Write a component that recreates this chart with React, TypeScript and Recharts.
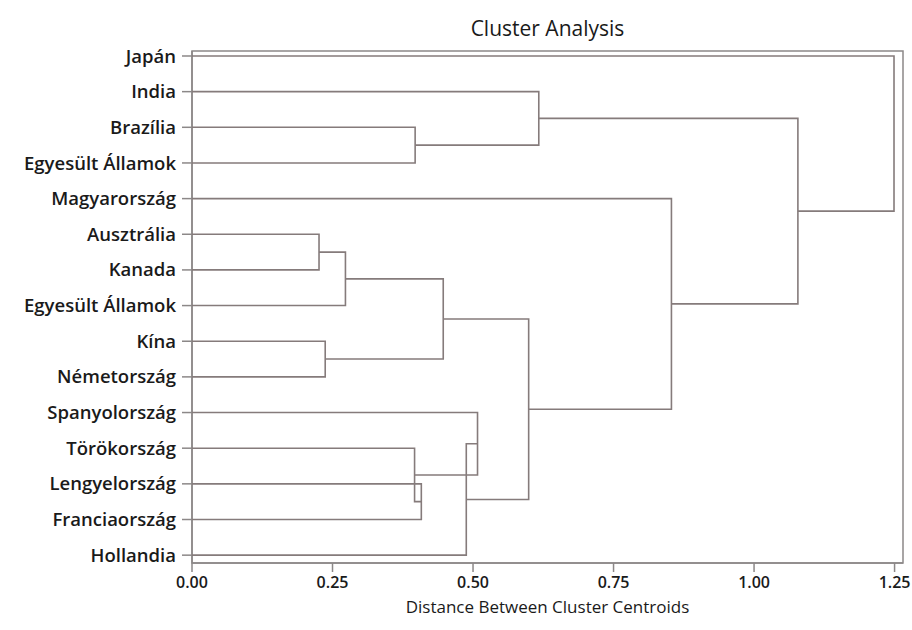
import { ComposedChart, Scatter, XAxis, YAxis, ReferenceArea } from 'recharts'

// leaf order top to bottom
const leaves = [
  'Japán',
  'India',
  'Brazília',
  'Egyesült Államok',
  'Magyarország',
  'Ausztrália',
  'Kanada',
  'Egyesült Államok',
  'Kína',
  'Németország',
  'Spanyolország',
  'Törökország',
  'Lengyelország',
  'Franciaország',
  'Hollandia',
]

// join steps: ids below 15 are leaves, the cluster made at step k gets id 15 + k
const joinA = [5, 8, 15, 2, 12, 11, 17, 10, 22, 21, 1, 4, 25, 0]
const joinB = [6, 9, 7, 3, 13, 19, 16, 20, 14, 23, 18, 24, 26, 27]
const joinDist = [0.226, 0.237, 0.273, 0.397, 0.408, 0.396, 0.447, 0.508, 0.488, 0.599, 0.617, 0.853, 1.078, 1.249]

const xTicks = [0, 0.25, 0.5, 0.75, 1.0, 1.25]

const FONT = '"Open Sans", sans-serif'
const INK = '#1a1a1a'
const LINK = '#857b7b'
const FRAME = '#8c8888'

function buildLinks() {
  const pos: number[] = leaves.map((_, i) => i)
  const height: number[] = leaves.map(() => 0)
  return joinDist.map((d, k) => {
    const a = joinA[k]
    const b = joinB[k]
    const pts = [
      { x: height[a], y: pos[a] },
      { x: d, y: pos[a] },
      { x: d, y: pos[b] },
      { x: height[b], y: pos[b] },
    ]
    pos.push((pos[a] + pos[b]) / 2)
    height.push(d)
    return pts
  })
}

const links = buildLinks()

export default function App() {
  return (
    <div style={{ position: 'absolute', left: 0, top: 0, width: 912, height: 630, background: '#fff', fontFamily: FONT }}>
      <div
        style={{
          position: 'absolute',
          left: 192,
          width: 711,
          top: 14,
          textAlign: 'center',
          fontSize: 21,
          fontWeight: 500,
          color: INK,
        }}
      >
        Cluster Analysis
      </div>
      <ComposedChart width={912} height={630} margin={{ top: 51, right: 9, bottom: 7, left: 0 }}>
        <XAxis
          type="number"
          dataKey="x"
          domain={[0, 1.265]}
          ticks={xTicks}
          tickFormatter={(v: number) => v.toFixed(2)}
          tick={{ fill: INK, fontSize: 16, fontWeight: 600, fontFamily: FONT }}
          tickSize={9}
          tickMargin={5}
          height={60}
          stroke={FRAME}
          strokeWidth={1.5}
          allowDataOverflow
          label={{
            value: 'Distance Between Cluster Centroids',
            position: 'insideBottom',
            offset: 10,
            fill: INK,
            fontSize: 17,
            fontWeight: 500,
            fontFamily: FONT,
          }}
        />
        <YAxis
          type="number"
          dataKey="y"
          reversed
          domain={[-0.14, 14.22]}
          ticks={leaves.map((_, i) => i)}
          interval={0}
          tickFormatter={(v: number) => leaves[v] ?? ''}
          tick={{ fill: INK, fontSize: 18.5, fontWeight: 600, fontFamily: FONT }}
          tickSize={10}
          tickMargin={6}
          width={192}
          stroke={FRAME}
          strokeWidth={1.5}
          allowDataOverflow
        />
        <ReferenceArea
          x1={0}
          x2={1.265}
          y1={-0.14}
          y2={14.22}
          fill="none"
          stroke={FRAME}
          strokeWidth={1.5}
          ifOverflow="visible"
        />
        {links.map((pts, i) => (
          <Scatter
            key={i}
            data={pts}
            line={{ stroke: LINK, strokeWidth: 1.6 }}
            lineType="joint"
            shape={() => <g />}
            isAnimationActive={false}
          />
        ))}
      </ComposedChart>
    </div>
  )
}
